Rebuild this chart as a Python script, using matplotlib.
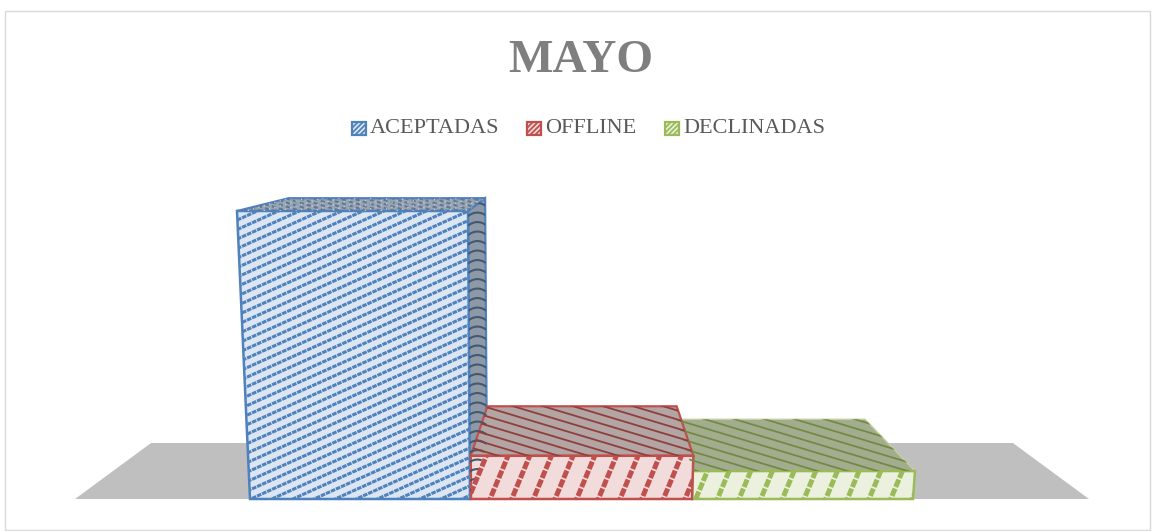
import numpy as np
import matplotlib
matplotlib.use('Agg')
import matplotlib.pyplot as plt
from matplotlib.patches import Polygon, Rectangle

# Datos
categorias = ['ACEPTADAS', 'OFFLINE', 'DECLINADAS']
valores = [100, 15, 9.7]
titulo = 'MAYO'

# Colores
borde = ['#4F81BD', '#C0504D', '#9BBB59']
relleno = ['#DCE6F2', '#F2DCDB', '#EBF1DE']
techo = ['#9AA5B4', '#B3A5A3', '#A3AD8E']
raya_techo = ['#5F7896', '#8E3F3D', '#728A48']

# Proyeccion (pixeles)
cx, horizonte = 582, 125.7
base_y, fondo = 499, 0.85
px_por_valor = 2.88
x_ini, ancho_barra = 250, 221
cx_alto, abrir = 510, 0.05 / 288


def proy(x, alto, atras=False):
    # frente: abre un poco hacia arriba
    xf = cx_alto + (x - cx_alto) * (1 + abrir * alto)
    yf = base_y - alto
    if atras:
        return cx + (xf - cx) * fondo, horizonte + (yf - horizonte) * fondo
    return xf, yf


def rayas(ax, puntos, pend, paso, color, lw, curva=0, ls='-', alpha=1):
    clip = Polygon(puntos, closed=True, transform=ax.transData, fc='none', ec='none')
    ax.add_patch(clip)
    pts = np.array(puntos)
    x0, x1 = pts[:, 0].min(), pts[:, 0].max()
    y0, y1 = pts[:, 1].min(), pts[:, 1].max()
    xs = np.linspace(x0, x1, 40)
    xm = (x0 + x1) / 2
    extra = abs(pend) * (x1 - x0) + abs(curva) * (x1 - x0) ** 2 + paso
    for c in np.arange(y0 - extra, y1 + extra, paso):
        ys = c + pend * (xs - x0) - curva * (xs - xm) ** 2
        l, = ax.plot(xs, ys, color=color, lw=lw, ls=ls, alpha=alpha, solid_capstyle='butt')
        l.set_clip_path(clip)


def cara(ax, puntos, fc, ec, lw=1.6):
    ax.add_patch(Polygon(puntos, closed=True, fc=fc, ec=ec, lw=lw, joinstyle='miter'))


fig = plt.figure(figsize=(11.54, 5.31), dpi=100)
plt.rcParams['font.family'] = ['Liberation Serif', 'DejaVu Serif']
ax = fig.add_axes([0, 0, 1, 1])
ax.set_xlim(0, 1154)
ax.set_ylim(531, 0)
ax.axis('off')

# Marco
ax.add_patch(Rectangle((4.5, 10.5), 1145, 519, fc='white', ec='#D9D9D9', lw=1))

# Piso
piso = [proy(75, 0), proy(1089, 0), proy(1089, 0, True), proy(75, 0, True)]
cara(ax, piso, '#BFBFBF', 'none', 0)

# Barras: azul, verde, roja (la roja tapa a la verde)
for i in [0, 2, 1]:
    x0 = x_ini + ancho_barra * i
    x1 = x0 + ancho_barra - (1 if i == 0 else 0)
    h = valores[i] * px_por_valor
    b = borde[i]

    # costado derecho solo se ve en la primera barra
    if i == 0:
        lado = [proy(x1, h), proy(x1, h, True), proy(x1, 0, True), proy(x1, 0)]
        cara(ax, lado, '#8E99A8', 'none', 0)
        rayas(ax, lado, 0, 9.5, '#44586F', 1.5, curva=-0.04)
        cara(ax, lado, 'none', b)

    arriba = [proy(x0, h), proy(x1, h), proy(x1, h, True), proy(x0, h, True)]
    cara(ax, arriba, techo[i], 'none', 0)
    if i == 0:
        rayas(ax, arriba, 0.3, 4, raya_techo[i], 1.5, ls=(0, (2, 1.5)))
        rayas(ax, arriba, -0.3, 5, '#C6CBD2', 1.0, ls=(0, (1, 3)))
    else:
        rayas(ax, arriba, 0.3, 9, raya_techo[i], 1.3)
    cara(ax, arriba, 'none', b if i < 2 else '#C3D1A4', 1.6 if i < 2 else 1)

    frente = [proy(x0, 0), proy(x1, 0), proy(x1, h), proy(x0, h)]
    cara(ax, frente, relleno[i], 'none', 0)
    if i == 0:
        rayas(ax, frente, -0.45, 9.5, b, 2.2, ls=(0, (1.5, 0.3)))
    else:
        rayas(ax, frente, -2.4, 52, b, 3.6, ls=(0, (1.6, 0.35)))
    cara(ax, frente, 'none', b, 1.8)

# Titulo
ax.text(581, 61, titulo, ha='center', va='center', fontsize=34, fontweight='bold', color='#7F7F7F')

# Leyenda
ley_x = [352, 527, 665]
for i, nombre in enumerate(categorias):
    k = [(ley_x[i], 122), (ley_x[i] + 14, 122), (ley_x[i] + 14, 135), (ley_x[i], 135)]
    cara(ax, k, relleno[i], 'none', 0)
    rayas(ax, k, -1, 5, borde[i], 1.3)
    cara(ax, k, 'none', borde[i], 1.6)
    ax.text(ley_x[i] + 18, 128.5, nombre, ha='left', va='center', fontsize=16, color='#595959')

fig.savefig('out.png', dpi=100)
